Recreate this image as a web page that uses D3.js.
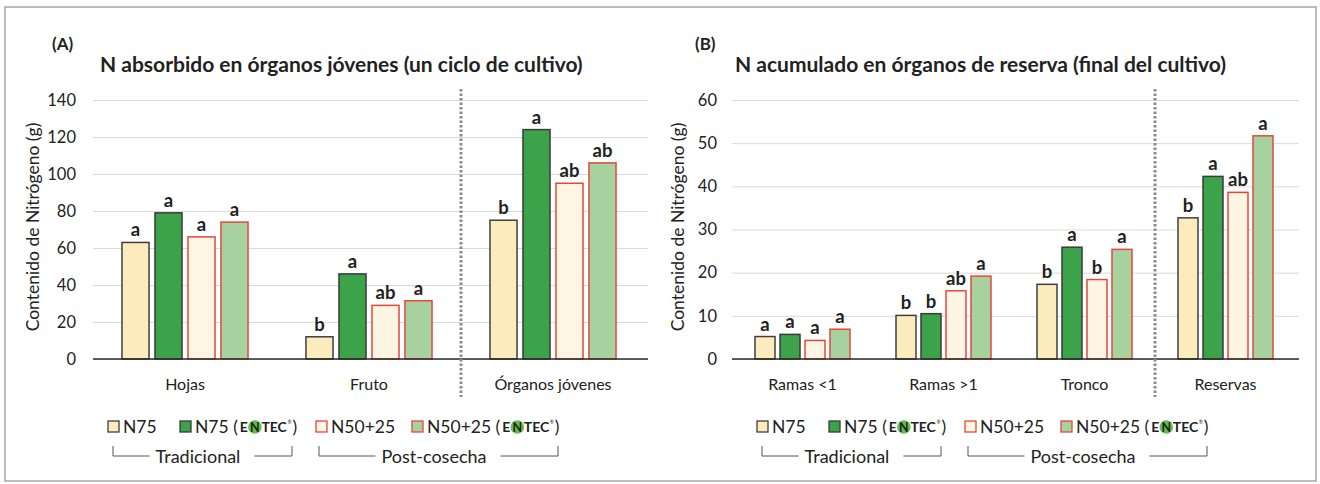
<!DOCTYPE html>
<html><head><meta charset="utf-8">
<script src="https://cdn.jsdelivr.net/npm/d3@7"></script>
<style>
html,body{margin:0;padding:0;background:#fff;}
text{font-family:Lato,"Open Sans",sans-serif;fill:#222;}
</style></head>
<body>
<svg id="chart" width="1320" height="484"></svg>
<script>
// ---------- DATA ----------
const seriesNames = ["N75", "N75 (ENTEC)", "N50+25", "N50+25 (ENTEC)"];

const categoriesA = ["Hojas", "Fruto", "Órganos jóvenes"];
const n75A   = [63, 12, 75];
const n75eA  = [79, 46, 124];
const n50A   = [66, 29, 95];
const n50eA  = [74, 31.5, 106];
const lettersA = [
  ["a", "b", "b"],
  ["a", "a", "a"],
  ["a", "ab", "ab"],
  ["a", "a", "ab"]
];
const ticksA = [0, 20, 40, 60, 80, 100, 120, 140];

const categoriesB = ["Ramas <1", "Ramas >1", "Tronco", "Reservas"];
const n75B   = [5.2, 10.1, 17.3, 32.7];
const n75eB  = [5.7, 10.5, 25.9, 42.3];
const n50B   = [4.3, 15.8, 18.4, 38.6];
const n50eB  = [6.9, 19.2, 25.4, 51.7];
const lettersB = [
  ["a", "b", "b", "b"],
  ["a", "b", "a", "a"],
  ["a", "ab", "b", "ab"],
  ["a", "a", "a", "a"]
];
const ticksB = [0, 10, 20, 30, 40, 50, 60];

const titleA = "N absorbido en órganos jóvenes (un ciclo de cultivo)";
const titleB = "N acumulado en órganos de reserva (final del cultivo)";
const yTitle = "Contenido de Nitrógeno (g)";
const groupNames = ["Tradicional", "Post-cosecha"];

// ---------- STYLE ----------
const fills   = ["#fcecbd", "#3da34b", "#fef6e2", "#a7d19e"];
const strokes = ["#3f3f3f", "#3a3a3a", "#e5473b", "#e5473b"];

const svg = d3.select("#chart");

// outer frame
svg.append("rect").attr("x", 5).attr("y", 7).attr("width", 1311).attr("height", 474)
  .attr("fill", "none").attr("stroke", "#a6a6a6").attr("stroke-width", 1.5);

function panel(cfg) {
  const g = svg.append("g");
  const y = d3.scaleLinear().domain([0, cfg.max]).range([359, 100]);
  const x = d3.scaleBand().domain(cfg.cats).range(cfg.xr).padding(0);
  const xs = d3.scaleBand().domain(seriesNames)
    .range([-cfg.group / 2, cfg.group / 2])
    .paddingInner(cfg.pi).paddingOuter(cfg.po);

  // gridlines
  const grid = d3.axisLeft(y).tickValues(cfg.ticks).tickSize(-(cfg.xr[1] - cfg.xr[0] + 3)).tickFormat("");
  const gg = g.append("g").attr("transform", `translate(${cfg.xr[0]},0)`).call(grid);
  gg.select(".domain").remove();
  gg.selectAll("line").attr("stroke", "#d9d9d9").attr("stroke-width", 1);

  // tick labels
  const ax = d3.axisLeft(y).tickValues(cfg.ticks).tickSize(0).tickPadding(0);
  const ag = g.append("g").attr("transform", `translate(${cfg.tickX},0)`).call(ax);
  ag.select(".domain").remove();
  ag.selectAll("text").attr("font-family", "Lato").attr("font-size", 16.5).attr("fill", "#262626");

  // y title
  g.append("text")
    .attr("transform", `translate(${cfg.ytX},${227}) rotate(-90)`)
    .attr("text-anchor", "middle").attr("font-size", 17.5).attr("fill", "#262626")
    .text(yTitle);

  // panel letter & title
  g.append("text").attr("x", cfg.letterX).attr("y", 50).attr("font-weight", 700)
    .attr("font-size", 17).text(cfg.letter);
  g.append("text").attr("x", cfg.titleX).attr("y", 72).attr("font-weight", 700)
    .attr("font-size", 21).attr("fill", "#111").text(cfg.title);

  // bars
  const series = cfg.values;
  series.forEach((vals, si) => {
    const sg = g.append("g");
    sg.selectAll("rect").data(vals).join("rect")
      .attr("x", (d, i) => x(cfg.cats[i]) + x.bandwidth() / 2 + xs(seriesNames[si]))
      .attr("y", d => y(d))
      .attr("width", xs.bandwidth())
      .attr("height", d => y(0) - y(d))
      .attr("fill", fills[si]).attr("stroke", strokes[si]).attr("stroke-width", 1.5);
    sg.selectAll("text").data(vals).join("text")
      .attr("x", (d, i) => x(cfg.cats[i]) + x.bandwidth() / 2 + xs(seriesNames[si]) + xs.bandwidth() / 2)
      .attr("y", d => y(d) - 6)
      .attr("text-anchor", "middle").attr("font-weight", 700).attr("font-size", 18.5).attr("fill", "#111")
      .text((d, i) => cfg.letters[si][i]);
  });

  // x axis baseline
  g.append("line").attr("x1", cfg.xr[0]).attr("x2", cfg.xr[1] + 3)
    .attr("y1", y(0)).attr("y2", y(0)).attr("stroke", "#2b2b2b").attr("stroke-width", 1.3);

  // category labels
  const xa = d3.axisBottom(x).tickSize(0).tickPadding(0);
  const xg = g.append("g").attr("transform", `translate(0,${y(0) + 31})`).call(xa);
  xg.select(".domain").remove();
  xg.selectAll("text").attr("font-family", "Lato").attr("font-size", 16).attr("fill", "#262626").attr("dy", 0);

  // dotted separator between last two categories
  const sepX = x(cfg.cats[cfg.cats.length - 1]);
  g.append("line").attr("x1", sepX).attr("x2", sepX).attr("y1", 89).attr("y2", 397)
    .attr("stroke", "#8c8c8c").attr("stroke-width", 3).attr("stroke-dasharray", "2.5,2");

  // legend
  const lg = g.append("g").attr("transform", `translate(${cfg.legX},0)`);
  const itemX = [0, 72, 208, 304];
  const ly = 433;
  seriesNames.forEach((nm, si) => {
    const ix = itemX[si];
    lg.append("rect").attr("x", ix).attr("y", ly - 12).attr("width", 11).attr("height", 11)
      .attr("fill", fills[si]).attr("stroke", strokes[si]).attr("stroke-width", 1.3);
    const base = nm.replace(" (ENTEC)", "");
    const isEntec = nm.includes("ENTEC");
    const t = lg.append("text").attr("x", ix + 15).attr("y", ly).attr("font-size", 17.5).attr("fill", "#262626")
      .text(isEntec ? base + " (" : base);
    if (isEntec) {
      let cx = ix + 15 + t.node().getComputedTextLength() + 2;
      const e = lg.append("text").attr("x", cx).attr("y", ly - 1).attr("font-family", "'Liberation Sans',Arial,sans-serif")
        .attr("font-weight", 700).attr("font-size", 14).attr("fill", "#333").text("E");
      cx += e.node().getComputedTextLength() + 0.5;
      lg.append("circle").attr("cx", cx + 6.5).attr("cy", ly - 6).attr("r", 6.8).attr("fill", "#62be4b");
      lg.append("text").attr("x", cx + 6.5).attr("y", ly - 1.2).attr("text-anchor", "middle")
        .attr("font-family", "'Liberation Sans',Arial,sans-serif").attr("font-weight", 700)
        .attr("font-size", 12.5).attr("fill", "#fff").text("N");
      cx += 13;
      const tc = lg.append("text").attr("x", cx).attr("y", ly - 1).attr("font-family", "'Liberation Sans',Arial,sans-serif")
        .attr("font-weight", 700).attr("font-size", 14).attr("fill", "#333").text("TEC");
      cx += tc.node().getComputedTextLength() + 0.5;
      lg.append("text").attr("x", cx).attr("y", ly - 9).attr("font-size", 5).attr("fill", "#333").text("®");
      cx += 5;
      lg.append("text").attr("x", cx).attr("y", ly).attr("font-size", 17.5).attr("fill", "#262626").text(")");
    }
  });

  // group brackets
  const brackets = [[5, 184], [211, 450]];
  const labelC = [90, 326];
  brackets.forEach((b, bi) => {
    const by = 456;
    const tx = lg.append("text").attr("x", labelC[bi]).attr("y", by + 7).attr("text-anchor", "middle")
      .attr("font-size", 18).attr("fill", "#262626").text(groupNames[bi]);
    const w = tx.node().getComputedTextLength();
    const l1 = labelC[bi] - w / 2 - 6, r1 = labelC[bi] + w / 2 + 14;
    lg.append("path").attr("d", `M${b[0]},${by - 10}V${by}H${l1}`).attr("fill", "none")
      .attr("stroke", "#555").attr("stroke-width", 1);
    lg.append("path").attr("d", `M${r1},${by}H${b[1]}V${by - 10}`).attr("fill", "none")
      .attr("stroke", "#555").attr("stroke-width", 1);
  });
}

panel({
  cats: categoriesA, values: [n75A, n75eA, n50A, n50eA], letters: lettersA,
  max: 140, ticks: ticksA, xr: [93, 645], group: 132, pi: 0.18, po: 0.09,
  tickX: 76, ytX: 39, letter: "(A)", letterX: 52, title: titleA, titleX: 100, legX: 108
});
panel({
  cats: categoriesB, values: [n75B, n75eB, n50B, n50eB], letters: lettersB,
  max: 60, ticks: ticksB, xr: [732, 1296], group: 100, pi: 0.2, po: 0.1,
  tickX: 717, ytX: 684, letter: "(B)", letterX: 695, title: titleB, titleX: 735, legX: 757
});
</script>
</body></html>
